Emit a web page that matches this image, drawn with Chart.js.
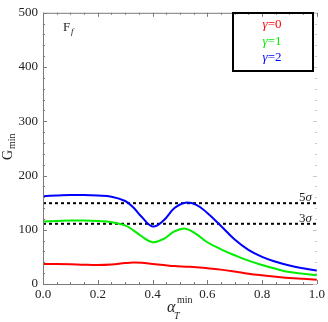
<!DOCTYPE html>
<html>
<head>
<meta charset="utf-8">
<script src="https://cdn.jsdelivr.net/npm/chart.js@4/dist/chart.umd.min.js"></script>
<style>
html,body{margin:0;padding:0;background:#fff;}
#wrap{width:328px;height:322px;position:relative;}
</style>
</head>
<body>
<div id="wrap"><canvas id="c" width="328" height="322"></canvas></div>
<script>
const alphaT = [0, 0.05, 0.1, 0.15, 0.2, 0.25, 0.3, 0.33, 0.36, 0.4, 0.44, 0.48, 0.52, 0.56, 0.6, 0.65, 0.7, 0.75, 0.8, 0.85, 0.9, 0.95, 1.0];
const gamma0 = [37, 37, 36.5, 35.5, 35, 36, 38.5, 39.5, 39, 37, 35, 33, 32, 31, 29, 26.5, 23, 19, 16, 13.5, 11, 9.5, 8];
const gamma1 = [115, 116, 117, 117, 116, 114, 108, 99, 88, 77, 83, 97, 102, 92, 77, 64, 53, 43, 35, 28, 22, 19, 16];
const gamma2 = [162, 163, 164, 164, 163, 161, 153, 141, 124, 106, 117, 140, 150, 146, 131, 107, 82, 63, 50, 41, 34, 29, 25];
const sigmaLevels = [149, 111];
const sigmaLabels = ["5", "3"];
const seriesNames = ["\u03b3=0", "\u03b3=1", "\u03b3=2"];
const xTicks = [0, 0.2, 0.4, 0.6, 0.8, 1.0];
const yTicks = [0, 100, 200, 300, 400, 500];

const colors = ["#ff0000", "#00ee00", "#0000ff"];
const serif = "'Liberation Serif', 'DejaVu Serif', serif";

function pts(ys){ return alphaT.map((x,i)=>({x:x,y:ys[i]})); }

const datasets = [gamma0, gamma1, gamma2].map((ys,i)=>({
  label: seriesNames[i], data: pts(ys), borderColor: colors[i], borderWidth: 2,
  pointRadius: 0, fill: false, tension: 0.4
}));
sigmaLevels.forEach((v,i)=>{
  datasets.push({label: sigmaLabels[i]+"\u03c3", data:[{x:0,y:v},{x:1,y:v}], borderColor:'#000',
    borderWidth:2, borderDash:[3,3], pointRadius:0, fill:false});
});

const decor = {
  id:'decor',
  afterDraw(chart){
    const ctx = chart.ctx, xs = chart.scales.x, ys = chart.scales.y;
    const L = xs.left, R = xs.right, T = ys.top, B = ys.bottom;
    ctx.save();
    // frame
    ctx.strokeStyle = '#7a7a7a'; ctx.lineWidth = 1;
    ctx.beginPath();
    ctx.moveTo(L+0.5, T); ctx.lineTo(L+0.5, B+0.5); ctx.lineTo(R, B+0.5);
    ctx.moveTo(L, T+0.5); ctx.lineTo(R, T+0.5);
    ctx.stroke();
    // ticks x
    for (let k=0;k<=20;k++){
      const v = k*0.05; const px = Math.round(xs.getPixelForValue(v))+0.5;
      const len = (k%4===0)?4:2;
      ctx.beginPath(); ctx.moveTo(px,B); ctx.lineTo(px,B-len); ctx.moveTo(px,T); ctx.lineTo(px,T+len); ctx.stroke();
    }
    for (let k=0;k<=25;k++){
      const v = k*20; const py = Math.round(ys.getPixelForValue(v))+0.5;
      const len = (k%5===0)?4:2;
      ctx.beginPath(); ctx.moveTo(L,py); ctx.lineTo(L+len,py); ctx.stroke();
      ctx.strokeStyle = '#c8c8c8';
      ctx.beginPath(); ctx.moveTo(R,py); ctx.lineTo(R-len,py); ctx.stroke();
      ctx.strokeStyle = '#7a7a7a';
    }
    // sigma labels
    ctx.fillStyle = '#222';
    ctx.textBaseline = 'alphabetic'; ctx.textAlign='left';
    sigmaLevels.forEach((v,i)=>{
      const py = ys.getPixelForValue(v) - 2;
      const px = 299;
      ctx.font = '13px '+serif; ctx.fillText(sigmaLabels[i], px, py);
      const w = ctx.measureText(sigmaLabels[i]).width;
      ctx.font = 'italic 13px '+serif; ctx.fillText('\u03c3', px+w, py);
    });
    // legend box
    ctx.strokeStyle = '#000'; ctx.lineWidth = 2;
    ctx.strokeRect(233, 13, 80, 58);
    ctx.textAlign='left';
    seriesNames.forEach((n,i)=>{
      const cy = 28 + i*16.5;
      ctx.fillStyle = colors[i];
      ctx.font = 'italic 13px '+serif;
      const g = n.charAt(0), rest = n.slice(1);
      const wg = ctx.measureText(g).width;
      ctx.font = '13px '+serif;
      const wr = ctx.measureText(rest).width;
      const x0 = 272 - (wg+wr)/2;
      ctx.font = 'italic 13px '+serif; ctx.fillText(g, x0, cy);
      ctx.font = '13px '+serif; ctx.fillText(rest, x0+wg, cy);
    });
    // F_f label
    ctx.fillStyle = '#222';
    ctx.font = '13px '+serif; ctx.fillText('F', 63, 31);
    ctx.font = 'italic 9px '+serif; ctx.fillText('f', 71, 34);
    // x title
    ctx.font = 'italic 16px '+serif; ctx.fillText('\u03b1', 167, 312);
    ctx.font = 'italic 10px '+serif; ctx.fillText('T', 174, 319);
    ctx.font = '10px '+serif; ctx.fillText('min', 177, 303);
    // y title
    ctx.translate(12, 160); ctx.rotate(-Math.PI/2);
    ctx.font = '14px '+serif; ctx.fillText('G', 0, 0);
    ctx.font = '10px '+serif; ctx.fillText('min', 11, 3);
    ctx.restore();
  }
};

new Chart(document.getElementById('c'), {
  type:'line',
  data:{datasets:datasets},
  options:{
    responsive:false, animation:false, devicePixelRatio:1,
    layout:{padding:{left:0,right:9,top:6,bottom:0}},
    plugins:{legend:{display:false}, tooltip:{enabled:false}},
    scales:{
      x:{type:'linear', min:0, max:1,
        afterFit(s){ s.height = 38; },
        afterBuildTicks(s){ s.ticks = xTicks.map(v=>({value:v})); },
        grid:{display:false, drawTicks:false}, border:{display:false},
        ticks:{padding:3, color:'#222', font:{family:serif, size:13}, maxRotation:0,
          callback:(v)=>v.toFixed(1)}},
      y:{type:'linear', min:0, max:500,
        afterFit(s){ s.width = 43; },
        afterBuildTicks(s){ s.ticks = yTicks.map(v=>({value:v})); },
        grid:{display:false, drawTicks:false}, border:{display:false},
        ticks:{padding:5, color:'#222', font:{family:serif, size:13}}}
    }
  },
  plugins:[decor]
});
</script>
</body>
</html>
